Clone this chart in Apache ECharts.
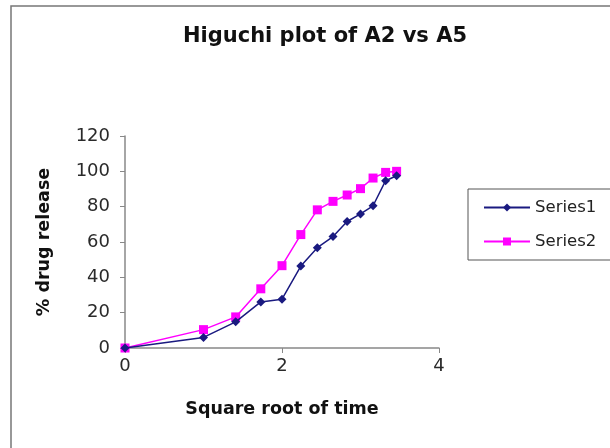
<!DOCTYPE html>
<html>
<head>
<meta charset="utf-8">
<script src="https://cdn.jsdelivr.net/npm/echarts@6/dist/echarts.min.js"></script>
<style>
  html, body { margin: 0; padding: 0; background: #fff; }
  #chart { width: 610px; height: 448px; }
</style>
</head>
<body>
<div id="chart"></div>
<script>
// Square root of sampling time (x) for both formulations
const sqrtTime = [0, 1, 1.41, 1.73, 2, 2.24, 2.45, 2.65, 2.83, 3, 3.16, 3.32, 3.46];
// Cumulative % drug release
const series1 = [0, 6, 14.8, 26.1, 27.6, 46.4, 56.8, 63.1, 71.6, 75.9, 80.5, 94.7, 97.5];
const series2 = [0, 10.4, 17.6, 33.5, 46.6, 64.2, 78.2, 83, 86.6, 90.2, 96.2, 99.4, 100];
const seriesNames = ['Series1', 'Series2'];
const xTicks = [0, 2, 4];
const yTicks = [0, 20, 40, 60, 80, 100, 120];

const FONT = 'DejaVu Sans, Verdana, sans-serif';
const pairs = (xs, ys) => xs.map((x, i) => [x, ys[i]]);

const chart = echarts.init(document.getElementById('chart'), null, { renderer: 'canvas' });
chart.setOption({
  backgroundColor: '#ffffff',
  animation: false,
  title: {
    text: 'Higuchi plot of A2 vs A5',
    left: 320,
    textAlign: 'center',
    top: 21,
    textStyle: { fontFamily: FONT, fontSize: 21, fontWeight: 'bold', color: '#111' }
  },
  graphic: [{
    type: 'rect',
    shape: { x: 11, y: 6, width: 620, height: 460 },
    style: { fill: 'none', stroke: '#777', lineWidth: 1.5 },
    silent: true,
    z: -1
  }],
  legend: {
    orient: 'vertical',
    left: 468,
    top: 189,
    width: 150,
    padding: [10, 60, 10, 15],
    itemGap: 17,
    itemWidth: 46,
    itemHeight: 10,
    borderColor: '#555',
    borderWidth: 1,
    textStyle: { fontFamily: FONT, fontSize: 16.5, color: '#222', padding: [0, 0, 0, 0] },
    data: seriesNames
  },
  grid: { left: 125, right: 171, top: 136, bottom: 100, containLabel: false },
  xAxis: {
    type: 'value',
    min: xTicks[0],
    max: xTicks[xTicks.length - 1],
    interval: 2,
    name: 'Square root of time',
    nameLocation: 'middle',
    nameGap: 52,
    nameTextStyle: { fontFamily: FONT, fontSize: 17.5, fontWeight: 'bold', color: '#111' },
    axisLine: { show: true, lineStyle: { color: '#888', width: 1.5 } },
    axisTick: { show: true, length: 5, lineStyle: { color: '#888' } },
    axisLabel: { fontFamily: FONT, fontSize: 18, color: '#2a2a2a', margin: 9 },
    splitLine: { show: false }
  },
  yAxis: {
    type: 'value',
    min: yTicks[0],
    max: yTicks[yTicks.length - 1],
    interval: 20,
    name: '% drug release',
    nameLocation: 'middle',
    nameGap: 72,
    nameRotate: 90,
    nameTextStyle: { fontFamily: FONT, fontSize: 17.5, fontWeight: 'bold', color: '#111' },
    axisLine: { show: true, lineStyle: { color: '#888', width: 1.5 } },
    axisTick: { show: true, length: 5, lineStyle: { color: '#888' } },
    axisLabel: { fontFamily: FONT, fontSize: 18, color: '#2a2a2a', margin: 15 },
    splitLine: { show: false }
  },
  series: [
    {
      name: seriesNames[0],
      type: 'line',
      data: pairs(sqrtTime, series1),
      symbol: 'diamond',
      symbolSize: 9,
      lineStyle: { color: '#1a1a80', width: 1.5 },
      itemStyle: { color: '#1a1a80' },
      z: 3
    },
    {
      name: seriesNames[1],
      type: 'line',
      data: pairs(sqrtTime, series2),
      symbol: 'rect',
      symbolSize: 9,
      lineStyle: { color: '#ff00ff', width: 1.5 },
      itemStyle: { color: '#ff00ff' },
      z: 2
    }
  ]
});
</script>
</body>
</html>
